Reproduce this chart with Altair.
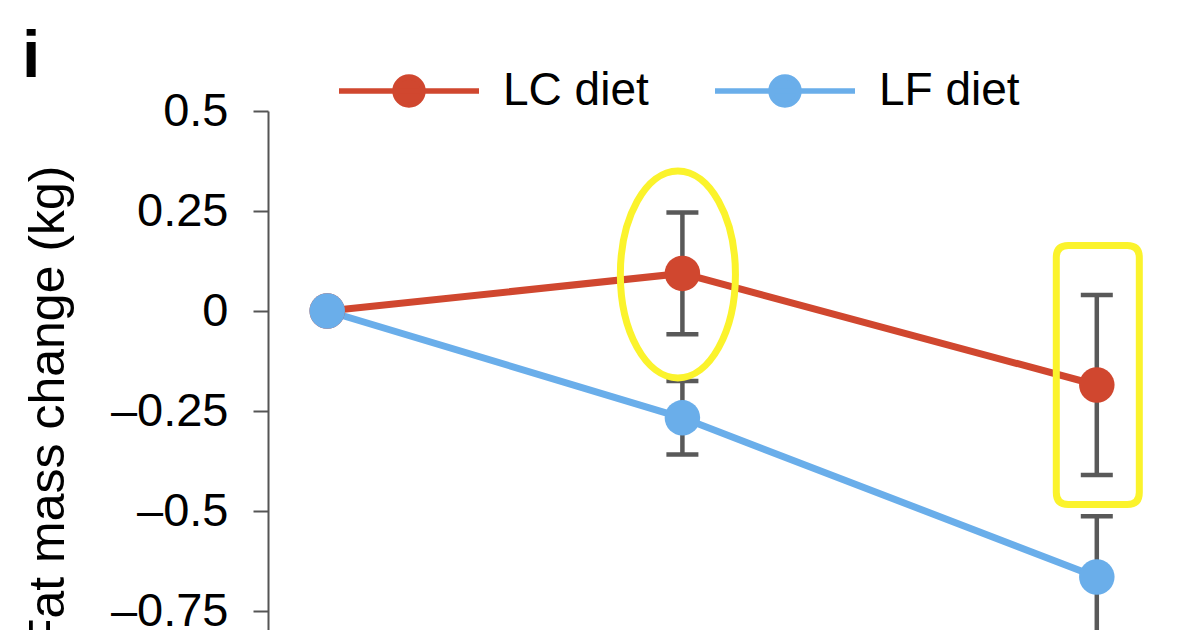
import altair as alt
import pandas as pd

# ---- data ----
diets = ["LC diet", "LF diet"]
days = [1, 7, 14]
lc_change = [0.0, 0.094, -0.185]
lc_sem = [0.0, 0.152, 0.225]
lf_change = [0.0, -0.267, -0.665]
lf_sem = [0.0, 0.092, 0.152]
y_ticks = [0.5, 0.25, 0, -0.25, -0.5, -0.75]
highlight_ellipse_day = 7
highlight_box_day = 14

rows = []
for d, m, s in zip(days, lc_change, lc_sem):
    rows.append({"diet": "LC diet", "day": d, "change": m, "sem": s})
for d, m, s in zip(days, lf_change, lf_sem):
    rows.append({"diet": "LF diet", "day": d, "change": m, "sem": s})
df = pd.DataFrame(rows)

RED = "#d0472f"
BLUE = "#6aaeea"
GRAY = "#595959"
YELLOW = "#fbf32c"
FONT = "Liberation Sans"

# legend symbol: a line with a dot in the middle
LEGEND_SYMBOL = (
    "M -1 0 L 1 0 "
    "M 0.2 0 C 0.2 0.1105 0.1105 0.2 0 0.2 C -0.1105 0.2 -0.2 0.1105 -0.2 0 "
    "C -0.2 -0.1105 -0.1105 -0.2 0 -0.2 C 0.1105 -0.2 0.2 -0.1105 0.2 0 Z"
)
# ellipse annotation
ELLIPSE = (
    "M 0 -1 C 0.3071 -1 0.556 -0.5523 0.556 0 C 0.556 0.5523 0.3071 1 0 1 "
    "C -0.3071 1 -0.556 0.5523 -0.556 0 C -0.556 -0.5523 -0.3071 -1 0 -1 Z"
)
# rounded rectangle annotation
ROUNDED_BOX = (
    "M -0.2275 -1 L 0.2275 -1 Q 0.3205 -1 0.3205 -0.907 L 0.3205 0.907 "
    "Q 0.3205 1 0.2275 1 L -0.2275 1 Q -0.3205 1 -0.3205 0.907 "
    "L -0.3205 -0.907 Q -0.3205 -1 -0.2275 -1 Z"
)

legend = alt.Legend(
    orient="none", legendX=68, legendY=-93, direction="horizontal", title=None,
    symbolType=LEGEND_SYMBOL, symbolSize=19600, symbolStrokeWidth=5.5,
    labelFontSize=46, labelFont=FONT, labelColor="black", labelOffset=21,
    columnPadding=55,
)
color = alt.Color("diet:N", scale=alt.Scale(domain=diets, range=[RED, BLUE]), legend=legend)

xscale = alt.Scale(domain=[0, 15], nice=False, zero=False)
yscale = alt.Scale(domain=[-1.0, 0.5], nice=False, zero=False)
yaxis = alt.Axis(
    values=y_ticks, grid=False, title="Fat mass change (kg)",
    labelExpr="replace('' + datum.value, '-', '\u2013')",
    domainColor="#555555", domainWidth=2, tickColor="#555555", tickWidth=2, tickSize=15,
    labelFontSize=47, labelFont=FONT, labelColor="black", labelPadding=25,
    titleFontSize=50, titleFont=FONT, titleFontWeight="normal", titleColor="black",
    titleAngle=270, titleAlign="right", titleBaseline="alphabetic", titleX=-205, titleY=54,
)

def X():
    return alt.X("day:Q", scale=xscale, axis=None)

def Y(field):
    return alt.Y(field, scale=yscale, axis=yaxis)

base = alt.Chart(df)

lines = base.mark_line(strokeWidth=7).encode(x=X(), y=Y("change:Q"), color=color)

err = base.transform_filter("datum.sem > 0").transform_calculate(
    lo="datum.change - datum.sem", hi="datum.change + datum.sem"
)
err_rule = err.mark_rule(color=GRAY, strokeWidth=4.5).encode(x=X(), y=Y("lo:Q"), y2="hi:Q")
err_caps = err.transform_fold(["lo", "hi"], as_=["end", "val"]).mark_rule(
    color=GRAY, strokeWidth=4.5, xOffset=-16, x2Offset=16
).encode(x=X(), x2="day:Q", y=Y("val:Q"))

points = base.mark_circle(size=1260, opacity=1).encode(x=X(), y=Y("change:Q"), color=color)

ellipse = base.transform_filter(
    f"datum.diet == 'LC diet' && datum.day == {highlight_ellipse_day}"
).mark_point(
    shape=ELLIPSE, size=42849, filled=False, color=YELLOW, strokeWidth=7, opacity=1,
    xOffset=-4.5, yOffset=1,
).encode(x=X(), y=Y("change:Q"))

box = base.transform_filter(
    f"datum.diet == 'LC diet' && datum.day == {highlight_box_day}"
).mark_point(
    shape=ROUNDED_BOX, size=67081, filled=False, color=YELLOW, strokeWidth=7, opacity=1,
    xOffset=1, yOffset=-10,
).encode(x=X(), y=Y("change:Q"))

chart = alt.layer(lines, err_rule, err_caps, points, ellipse, box).properties(
    width=888, height=600,
    padding={"left": 260, "top": 103, "right": 36, "bottom": 20},
    autosize=alt.AutoSizeParams(type="none"),
    title=alt.TitleParams(
        "i", anchor="start", frame="group", fontSize=66, fontWeight="bold",
        font=FONT, color="black", dx=-246, dy=125, offset=0, baseline="alphabetic",
    ),
    background="white",
).configure_view(strokeWidth=0)

chart.save("out.html", embed_options={"renderer": "svg", "actions": False})
